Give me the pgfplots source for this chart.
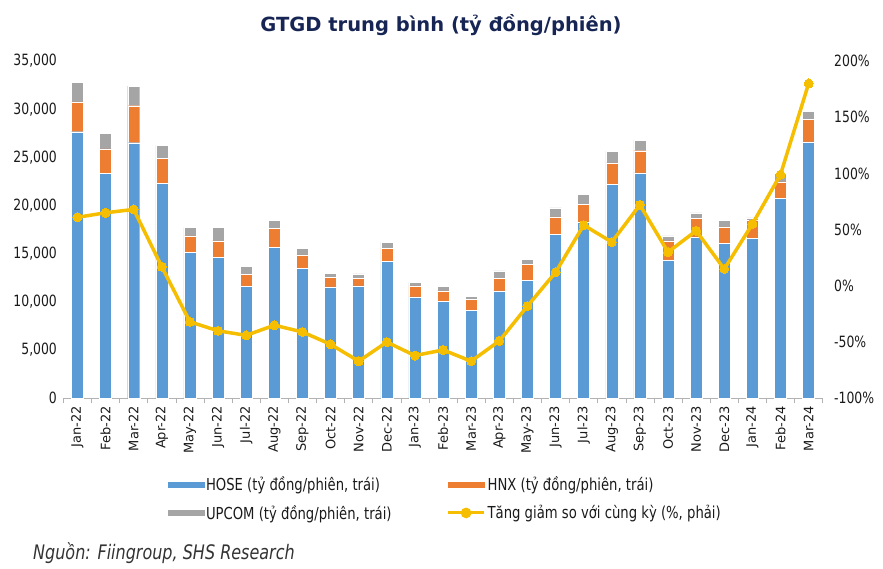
\documentclass[border=0pt]{standalone}
\usepackage{pgfplots}
\pgfplotsset{compat=1.18}
\usepackage{fontspec}
\setmainfont{DejaVu Sans}[FakeStretch=0.8]
\newfontfamily\titlefont{DejaVu Sans}
\newfontfamily\xfont{DejaVu Sans}
\definecolor{hoseblue}{HTML}{5B9BD5}
\definecolor{hnxorange}{HTML}{ED7D31}
\definecolor{upcomgray}{HTML}{A5A5A5}
\definecolor{gold}{RGB}{245,190,0}
\definecolor{navy}{HTML}{172554}
\definecolor{txt}{HTML}{1A1A1A}
\newcommand\ticksize{\fontsize{15.5}{18}\selectfont}
\newcommand\legsize{\fontsize{16.5}{19}\selectfont}
\begin{document}
\begin{tikzpicture}
\path[use as bounding box] (0,0) rectangle (883pt,568pt);
\pgfplotsset{
  common/.style={
    at={(63.4pt,169.7pt)}, anchor=south west, scale only axis,
    width=759.3pt, height=337.3pt, xmin=-0.5, xmax=26.5,
    scaled y ticks=false,
    /pgf/number format/assume math mode=true,
    tick label style={font=\ticksize, text=txt},
  }
}
\begin{axis}[common,
  ymin=0, ymax=35000,
  ybar stacked, bar width=12pt,
  axis x line*=bottom, axis y line*=left,
  x axis line style={-, draw=black!30, line width=0.8pt},
  y axis line style={draw=none},
  xtick={0,...,26},
  xticklabels={Jan-22,Feb-22,Mar-22,Apr-22,May-22,Jun-22,Jul-22,Aug-22,Sep-22,Oct-22,Nov-22,Dec-22,Jan-23,Feb-23,Mar-23,Apr-23,May-23,Jun-23,Jul-23,Aug-23,Sep-23,Oct-23,Nov-23,Dec-23,Jan-24,Feb-24,Mar-24},
  x tick label style={rotate=90, anchor=east, font=\xfont\fontsize{13}{15}\selectfont},
  major x tick style={draw=none},
  minor xtick={-0.5,0.5,...,26.5},
  minor x tick style={draw=black!30, line width=0.6pt},
  xtick align=outside, minor tick length=5pt,
  ytick={0,5000,...,35000},
  yticklabels={0,{5,000},{10,000},{15,000},{20,000},{25,000},{30,000},{35,000}},
  major y tick style={draw=none},
  yticklabel style={xshift=-3pt},
  clip=false,
]
\addplot+[fill=hoseblue, draw=white, line width=0.4pt] coordinates {
(0,27660) (1,23340) (2,26520) (3,22300) (4,15130) (5,14610) (6,11630) (7,15650) (8,13470) (9,11560) (10,11660) (11,14190) (12,10520) (13,10040) (14,9140) (15,11150) (16,12260) (17,17000) (18,18310) (19,22190) (20,23400) (21,14330) (22,16750) (23,16060) (24,16590) (25,20740) (26,26620)};
\addplot+[fill=hnxorange, draw=white, line width=0.4pt] coordinates {
(0,3110) (1,2550) (2,3840) (3,2590) (4,1730) (5,1730) (6,1250) (7,1970) (8,1420) (9,970) (10,800) (11,1390) (12,1140) (13,1110) (14,1140) (15,1310) (16,1620) (17,1830) (18,1840) (19,2250) (20,2290) (21,2010) (22,1910) (23,1730) (24,1900) (25,1730) (26,2360)};
\addplot+[fill=upcomgray, draw=white, line width=0.4pt] coordinates {
(0,2020) (1,1600) (2,2040) (3,1350) (4,870) (5,1390) (6,830) (7,870) (8,690) (9,450) (10,450) (11,620) (12,390) (13,450) (14,280) (15,760) (16,560) (17,930) (18,1000) (19,1210) (20,1110) (21,520) (22,590) (23,700) (24,240) (25,870) (26,760)};
\end{axis}
\begin{axis}[common,
  ymin=-100, ymax=200,
  axis x line=none, axis y line*=right,
  y axis line style={draw=none},
  ytick={-100,-50,...,200},
  yticklabels={-100\%,-50\%,0\%,50\%,100\%,150\%,200\%},
  major y tick style={draw=none},
  yticklabel style={anchor=west, xshift=8pt},
  clip=false,
  legend columns=2,
  legend cell align=left,
  legend style={draw=none, fill=none, font=\legsize, text=txt,
    at={(rel axis cs:0.137,-0.226)}, anchor=north west,
    inner sep=0pt, row sep=9pt,
    /tikz/every even column/.append style={column sep=53pt}},
]
\addlegendimage{legend image code/.code={\fill[hoseblue] (0pt,-2.5pt) rectangle (36pt,2.5pt);}}
\addlegendentry{HOSE (tỷ đồng/phiên, trái)}
\addlegendimage{legend image code/.code={\fill[hnxorange] (0pt,-2.5pt) rectangle (36pt,2.5pt);}}
\addlegendentry{HNX (tỷ đồng/phiên, trái)}
\addlegendimage{legend image code/.code={\fill[upcomgray] (0pt,-2.5pt) rectangle (36pt,2.5pt);}}
\addlegendentry{UPCOM (tỷ đồng/phiên, trái)}
\addplot[color=gold, line width=3.5pt, mark=*, mark size=4.5pt, mark options={fill=gold, draw=gold, line width=0pt},
  legend image code/.code={\draw[gold, line width=3pt] (0pt,0pt) -- (36pt,0pt); \fill[gold] (18pt,0pt) circle (3.5pt);}]
coordinates {
(0,61) (1,65) (2,68) (3,17) (4,-32) (5,-40) (6,-44) (7,-35) (8,-41) (9,-52) (10,-67) (11,-50) (12,-62) (13,-57) (14,-67) (15,-49) (16,-18) (17,12) (18,54) (19,39) (20,72) (21,30) (22,49) (23,15) (24,55) (25,99) (26,180)};
\addlegendentry{Tăng giảm so với cùng kỳ (\%, phải)}
\end{axis}
\node[font=\titlefont\bfseries\fontsize{19.5}{22}\selectfont, text=navy] at (441pt,543pt) {GTGD trung bình (tỷ đồng/phiên)};
\node[font=\itshape\fontsize{20}{23}\selectfont, text=black!80, anchor=west, inner sep=0pt] at (33pt,15pt) {Nguồn: Fiingroup, SHS Research};
\end{tikzpicture}
\end{document}
